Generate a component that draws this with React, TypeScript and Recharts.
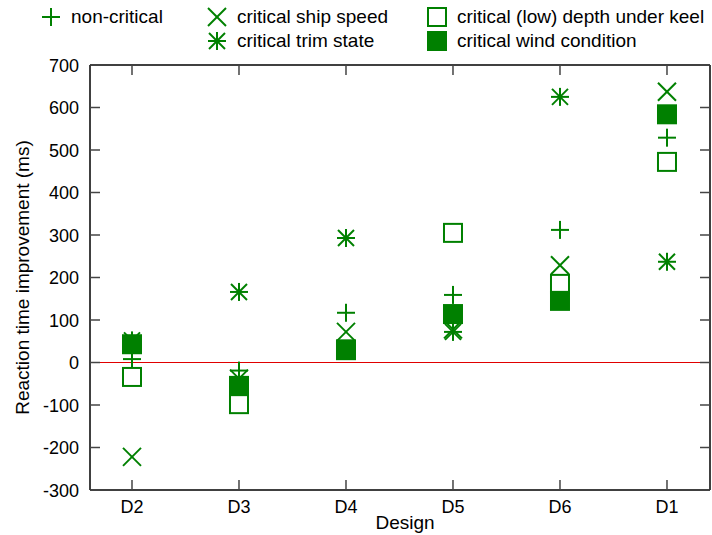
import React from 'react';
import {
  ScatterChart,
  Scatter,
  XAxis,
  YAxis,
  ReferenceLine,
  Label,
} from 'recharts';

// ---------- data ----------
const designs = ['D2', 'D3', 'D4', 'D5', 'D6', 'D1'];
const nonCritical = [8, -19, 117, 159, 312, 529];
const shipSpeed = [-222, -38, 72, 78, 229, 637];
const lowDepth = [-34, -98, 29, 305, 185, 472];
const trimState = [52, 166, 293, 72, 625, 237];
const windCondition = [43, -55, 31, 114, 145, 584];
const yTicks = [-300, -200, -100, 0, 100, 200, 300, 400, 500, 600, 700];

const seriesNames = [
  'non-critical',
  'critical ship speed',
  'critical (low) depth under keel',
  'critical trim state',
  'critical wind condition',
];

const GREEN = '#008000';
const FONT = '"Liberation Sans", Arial, Helvetica, sans-serif';

const toPoints = (vals: number[]) => vals.map((v, i) => ({ x: i, y: v, design: designs[i] }));

// ---------- marker shapes ----------
const S = 9;
const PlusMark = ({ cx, cy }: any) => (
  <g stroke={GREEN} strokeWidth={2} fill="none">
    <line x1={cx - S} y1={cy} x2={cx + S} y2={cy} />
    <line x1={cx} y1={cy - S} x2={cx} y2={cy + S} />
  </g>
);
const CrossMark = ({ cx, cy }: any) => (
  <g stroke={GREEN} strokeWidth={2} fill="none">
    <line x1={cx - S} y1={cy - S} x2={cx + S} y2={cy + S} />
    <line x1={cx - S} y1={cy + S} x2={cx + S} y2={cy - S} />
  </g>
);
const StarMark = ({ cx, cy }: any) => (
  <g stroke={GREEN} strokeWidth={2} fill="none">
    <line x1={cx - S} y1={cy} x2={cx + S} y2={cy} />
    <line x1={cx} y1={cy - S} x2={cx} y2={cy + S} />
    <line x1={cx - S + 1} y1={cy - S + 1} x2={cx + S - 1} y2={cy + S - 1} />
    <line x1={cx - S + 1} y1={cy + S - 1} x2={cx + S - 1} y2={cy - S + 1} />
  </g>
);
const OpenSquare = ({ cx, cy }: any) => (
  <rect x={cx - S} y={cy - S} width={2 * S} height={2 * S} fill="#fff" stroke={GREEN} strokeWidth={2} />
);
const FilledSquare = ({ cx, cy }: any) => (
  <rect x={cx - S - 1} y={cy - S - 1} width={2 * S + 2} height={2 * S + 2} fill={GREEN} stroke="none" />
);
const NoMark = () => <g />;

const markers = [PlusMark, CrossMark, OpenSquare, StarMark, FilledSquare];

// ---------- ticks ----------
const TICK_M = 10;
const TICK_LEN = 10;
const TICK_STROKE = '#444';
const XTick = ({ x, y, payload }: any) => (
  <g>
    <line x1={x} y1={y - TICK_M} x2={x} y2={y - TICK_M - TICK_LEN} stroke={TICK_STROKE} strokeWidth={1.5} />
    <text x={x} y={y + 13} textAnchor="middle" fontFamily={FONT} fontSize={18} fill="#000">
      {designs[payload.value]}
    </text>
  </g>
);
const YTick = ({ x, y, payload }: any) => (
  <g>
    <line x1={x + TICK_M} y1={y} x2={x + TICK_M + TICK_LEN} y2={y} stroke={TICK_STROKE} strokeWidth={1.5} />
    <text x={x - 1} y={y + 6.5} textAnchor="end" fontFamily={FONT} fontSize={18} fill="#000">
      {payload.value}
    </text>
  </g>
);
const TopTick = ({ x, y }: any) => (
  <line x1={x} y1={y} x2={x} y2={y + TICK_LEN} stroke={TICK_STROKE} strokeWidth={1.5} />
);
const RightTick = ({ x, y }: any) => (
  <line x1={x} y1={y} x2={x - TICK_LEN} y2={y} stroke={TICK_STROKE} strokeWidth={1.5} />
);

const X_DOMAIN: [number, number] = [-0.3925, 5.402];
const Y_DOMAIN: [number, number] = [-300, 700];

const LegendIcon = ({ idx }: { idx: number }) => {
  const M = markers[idx];
  return (
    <svg width={22} height={22} style={{ display: 'block' }}>
      <M cx={11} cy={11} />
    </svg>
  );
};

const legendItems = [
  { idx: 0, left: 40, top: 6 },
  { idx: 1, left: 206, top: 6 },
  { idx: 3, left: 206, top: 30 },
  { idx: 2, left: 426, top: 6 },
  { idx: 4, left: 426, top: 30 },
];

export default function App() {
  const data = [nonCritical, shipSpeed, lowDepth, trimState, windCondition];
  return (
    <div style={{ position: 'absolute', left: 0, top: 0, width: 712, height: 535, background: '#fff' }}>
      <ScatterChart width={712} height={535} margin={{ top: 64, right: 1, bottom: 0, left: 0 }}>
        <XAxis
          xAxisId="bottom"
          type="number"
          dataKey="x"
          domain={X_DOMAIN}
          ticks={[0, 1, 2, 3, 4, 5]}
          allowDataOverflow
          height={45}
          tickSize={0}
          tickMargin={TICK_M}
          tickLine={false}
          tick={<XTick />}
          axisLine={{ stroke: '#000', strokeWidth: 1.5 }}
          interval={0}
        >
          <Label
            content={() => (
              <text x={405} y={529} textAnchor="middle" fontFamily={FONT} fontSize={19} fill="#000">
                Design
              </text>
            )}
          />
        </XAxis>
        <XAxis
          xAxisId="top"
          orientation="top"
          type="number"
          dataKey="x"
          domain={X_DOMAIN}
          ticks={[0, 1, 2, 3, 4, 5]}
          allowDataOverflow
          height={1}
          tickSize={0}
          tickMargin={0}
          tickLine={false}
          tick={<TopTick />}
          axisLine={{ stroke: '#000', strokeWidth: 1.5 }}
          interval={0}
        />
        <YAxis
          yAxisId="left"
          type="number"
          dataKey="y"
          domain={Y_DOMAIN}
          ticks={yTicks}
          allowDataOverflow
          width={90}
          tickSize={0}
          tickMargin={TICK_M}
          tickLine={false}
          tick={<YTick />}
          axisLine={{ stroke: '#000', strokeWidth: 1.5 }}
          interval={0}
        >
          <Label
            content={() => {
              const cy = 277.5;
              return (
                <text
                  x={22}
                  y={cy}
                  transform={`rotate(-90, 22, ${cy})`}
                  textAnchor="middle"
                  dominantBaseline="central"
                  fontFamily={FONT}
                  fontSize={19}
                  fill="#000"
                >
                  Reaction time improvement (ms)
                </text>
              );
            }}
          />
        </YAxis>
        <YAxis
          yAxisId="right"
          orientation="right"
          type="number"
          dataKey="y"
          domain={Y_DOMAIN}
          ticks={yTicks}
          allowDataOverflow
          width={1}
          tickSize={0}
          tickMargin={0}
          tickLine={false}
          tick={<RightTick />}
          axisLine={{ stroke: '#000', strokeWidth: 1.5 }}
          interval={0}
        />
        <ReferenceLine xAxisId="bottom" yAxisId="left" y={0} stroke="#e00000" strokeWidth={1.2} />
        <Scatter
          name="frame"
          xAxisId="top"
          yAxisId="right"
          data={toPoints(nonCritical)}
          shape={NoMark}
          legendType="none"
          isAnimationActive={false}
        />
        {data.map((vals, i) => (
          <Scatter
            key={seriesNames[i]}
            name={seriesNames[i]}
            xAxisId="bottom"
            yAxisId="left"
            data={toPoints(vals)}
            shape={markers[i]}
            isAnimationActive={false}
          />
        ))}
      </ScatterChart>
      {legendItems.map((it) => (
        <div
          key={it.idx}
          style={{
            position: 'absolute',
            left: it.left,
            top: it.top,
            display: 'flex',
            alignItems: 'center',
            fontFamily: FONT,
            fontSize: 19,
            lineHeight: '22px',
            whiteSpace: 'nowrap',
            color: '#000',
          }}
        >
          <LegendIcon idx={it.idx} />
          <span style={{ marginLeft: 9 }}>{seriesNames[it.idx]}</span>
        </div>
      ))}
    </div>
  );
}
